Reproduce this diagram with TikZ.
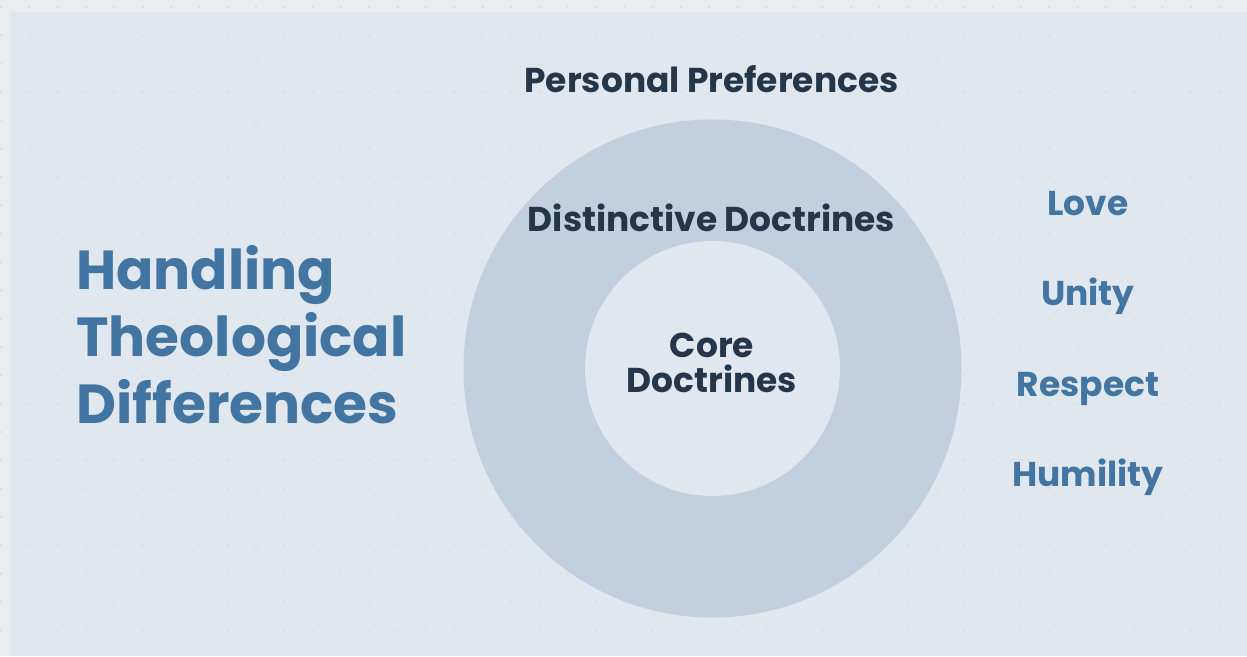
\documentclass[tikz,border=0pt]{standalone}
\usepackage{fontspec}
\setmainfont{Poppins}
\definecolor{pageframe}{HTML}{E9EDF0}
\definecolor{pagebg}{HTML}{E0E7EE}
\definecolor{dotgrey}{HTML}{D9DFE6}
\definecolor{ringblue}{HTML}{C0D0DF}
\definecolor{darknavy}{HTML}{243649}
\definecolor{slateblue}{HTML}{4275A2}
\tikzset{
  darklabel/.style={anchor=base, inner sep=0pt, text=darknavy, font=\fontsize{19.6pt}{24pt}\selectfont\bfseries},
  virtue/.style={anchor=base, inner sep=0pt, text=slateblue, font=\fontsize{19.6pt}{24pt}\selectfont\bfseries},
}

\begin{document}
\begin{tikzpicture}[x=0.02cm, y=-0.02cm]
    \useasboundingbox (0,0) rectangle (1247,656);
    \fill[pageframe] (0,0) rectangle (1247,656);
    \fill[pagebg] (10,12) rectangle (1247,656);
    \foreach \i in {0,...,44}
      \foreach \j in {0,...,23}
        \fill[dotgrey] (1+28.33*\i, 7+28.33*\j) circle[radius=1.4];

    % rings
    \fill[ringblue] (712.5,368.5) circle[radius=249];
    \fill[pagebg] (712.5,368.5) circle[radius=127.5];

    \node[darklabel] (pref) at (711.5,92) {Personal Preferences};
    \node[darklabel] (dist) at (711.5,231) {Distinctive Doctrines};
    \node[darklabel, align=center, font=\fontsize{19.6pt}{19.9pt}\selectfont\bfseries] (core) at (712,392.7) {Core\\Doctrines};

    \node[anchor=base west, inner sep=0pt, text=slateblue, align=left, font=\fontsize{31.3pt}{38pt}\selectfont\bfseries] (title) at (76,423) {Handling\\Theological\\Differences};

    \node[virtue] (love) at (1088,215.7) {Love};
    \node[virtue] (unity) at (1088,305.7) {Unity};
    \node[virtue] (respect) at (1088,396) {Respect};
    \node[virtue] (humility) at (1088,486.7) {Humility};
\end{tikzpicture}
\end{document}
